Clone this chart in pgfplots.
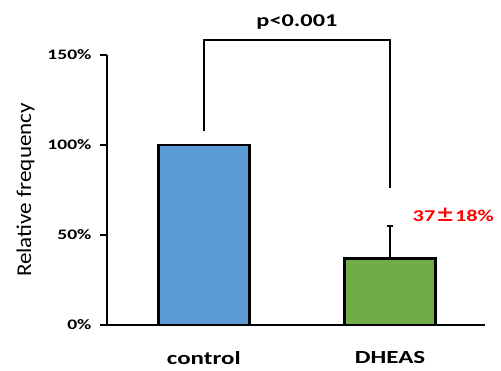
\documentclass[border=0pt]{standalone}
\usepackage{pgfplots}
\pgfplotsset{compat=1.18}
\usepackage{fontspec}
\setmainfont{Carlito}[FakeStretch=1.35]
\newfontfamily\labelfont{Carlito}[FakeStretch=1.1]
\newfontfamily\cjk{Noto Sans CJK JP}[FakeStretch=1.2]
\definecolor{barblue}{HTML}{5B9BD5}
\definecolor{bargreen}{HTML}{70AD47}
\definecolor{annred}{HTML}{FF0000}
\begin{document}
\begin{tikzpicture}[x=1pt,y=1pt]
\begin{axis}[
  at={(0,0)}, anchor=south west,
  scale only axis,
  width=378pt, height=270pt,
  xmin=-0.52, xmax=1.51,
  ymin=0, ymax=150,
  axis x line=bottom, axis y line=left,
  axis line style={line width=2.6pt, -},
  xtick={0,1}, xticklabels={control,DHEAS},
  major x tick style={draw=none},
  xticklabel style={font=\fontsize{18.5}{20}\selectfont\bfseries, yshift=-16pt},
  ytick={0,50,100,150},
  yticklabels={0\%,50\%,100\%,150\%},
  yticklabel style={font=\fontsize{14.5}{17}\selectfont\bfseries, xshift=-5pt},
  tick align=outside,
  major tick length=7pt,
  major y tick style={line width=2.6pt, black},
  ylabel={Relative frequency},
  ylabel style={font=\fontsize{21}{24}\selectfont\labelfont, yshift=6pt},
  clip=false,
  ybar, bar width=91pt, bar shift=0pt,
]
\addplot[fill=barblue, draw=black, line width=2.6pt] coordinates {(0,100)};
\addplot[fill=bargreen, draw=black, line width=2.6pt,
  error bars/.cd, y dir=plus, y explicit,
  error bar style={line width=2.2pt, black},
  error mark options={rotate=90, mark size=3pt, line width=2.2pt}]
  coordinates {(1,37) +- (0,18)};
% significance bracket
\addplot[sharp plot, black, line width=2.6pt, mark=none, forget plot]
  coordinates {(0,108) (0,158.3) (1,158.3) (1,76)};
\node[font=\fontsize{18}{20}\selectfont\bfseries] at (axis cs:0.5,168.5) {p<0.001};
\node[font=\fontsize{16.5}{18}\selectfont\bfseries, text=annred] at (axis cs:1.34,61)
  {37{\cjk ±}18\%};
\end{axis}
\pgfresetboundingbox
\path (-107,-45) rectangle (394,325);
\end{tikzpicture}
\end{document}
